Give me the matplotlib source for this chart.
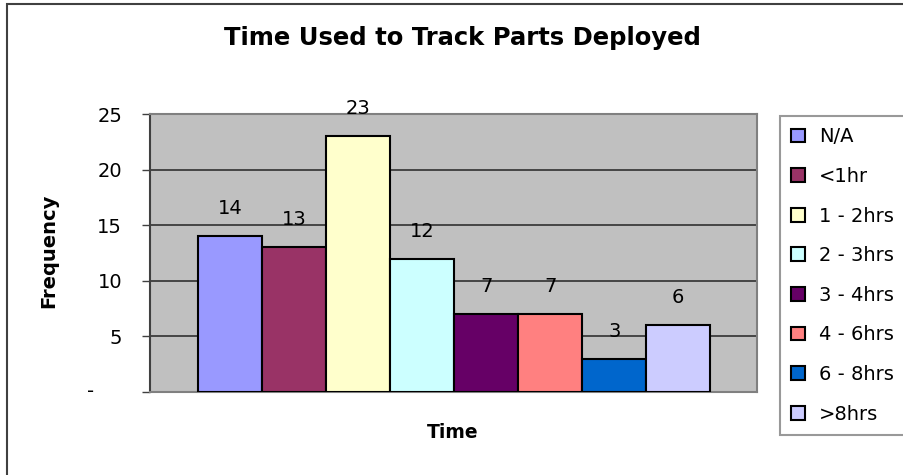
import numpy as np
import matplotlib
matplotlib.use("Agg")
import matplotlib.pyplot as plt
from matplotlib.patches import Rectangle

# Data
categories = ["N/A", "<1hr", "1 - 2hrs", "2 - 3hrs", "3 - 4hrs", "4 - 6hrs", "6 - 8hrs", ">8hrs"]
frequency = [14, 13, 23, 12, 7, 7, 3, 6]
bar_colors = ["#9999FF", "#993366", "#FFFFCC", "#CCFFFF", "#660066", "#FF8080", "#0066CC", "#CCCCFF"]
y_ticks = [0, 5, 10, 15, 20, 25]
y_tick_labels = ["", "5", "10", "15", "20", "25"]

plt.rcParams["font.family"] = ["DejaVu Sans"]

fig = plt.figure(figsize=(9.04, 4.75), dpi=100)
ax = fig.add_axes([150 / 904, 83 / 475, 607 / 904, 278 / 475])
ax.set_facecolor("#C0C0C0")

x = np.arange(len(categories))
for i, (cat, val, col) in enumerate(zip(categories, frequency, bar_colors)):
    ax.bar(x[i], val, width=1.0, color=col, edgecolor="black",
           linewidth=1.5, label=cat, zorder=3)
    ax.annotate(str(val), xy=(x[i], val), xytext=(0, 13), textcoords="offset points",
                ha="center", va="bottom", fontsize=14, zorder=4)

ax.set_xlim(-1.25, 8.23)
ax.set_ylim(0, 25)
ax.set_yticks(y_ticks)
ax.set_yticklabels(y_tick_labels, fontsize=14)
ax.set_xticks([])
ax.tick_params(axis="y", direction="out", length=6, width=1, color="#404040", pad=14)
ax.yaxis.grid(True, color="#303030", linewidth=1.2, zorder=1)
ax.set_axisbelow(True)

for side in ["top", "right", "bottom"]:
    ax.spines[side].set_color("#808080")
    ax.spines[side].set_linewidth(1.5)
ax.spines["left"].set_color("#404040")
ax.spines["left"].set_linewidth(1.5)

# zero label shown as a dash, Excel style
ax.annotate("-", xy=(0, 0), xycoords=("axes fraction", "data"), xytext=(-43, 0),
            textcoords="offset points", ha="center", va="center", fontsize=14)

# Titles
fig.text(462 / 904, 1 - 38 / 475, "Time Used to Track Parts Deployed",
         ha="center", va="center", fontsize=17.5, fontweight="bold")
fig.text(49 / 904, 1 - 251 / 475, "Frequency", rotation=90,
         ha="center", va="center", fontsize=14, fontweight="bold")
fig.text(453 / 904, 1 - 433 / 475, "Time", ha="center", va="center",
         fontsize=13.5, fontweight="bold")

# Legend
leg = fig.legend(loc="upper left", bbox_to_anchor=(780 / 904, 1 - 116 / 475),
                 fontsize=14, frameon=True, fancybox=False, borderaxespad=0,
                 labelspacing=1.06, handlelength=0.72, handleheight=0.72,
                 handletextpad=0.7, borderpad=0.58)
leg.get_frame().set_edgecolor("#808080")
leg.get_frame().set_linewidth(1.5)
for h in leg.legend_handles:
    h.set_linewidth(1.5)

# Outer border
fig.patches.append(Rectangle((7 / 904, -0.05), 1.0, 1 - 4 / 475 + 0.05,
                             transform=fig.transFigure, fill=False,
                             edgecolor="#404040", linewidth=1.5))

plt.savefig("out.png", dpi=100)
